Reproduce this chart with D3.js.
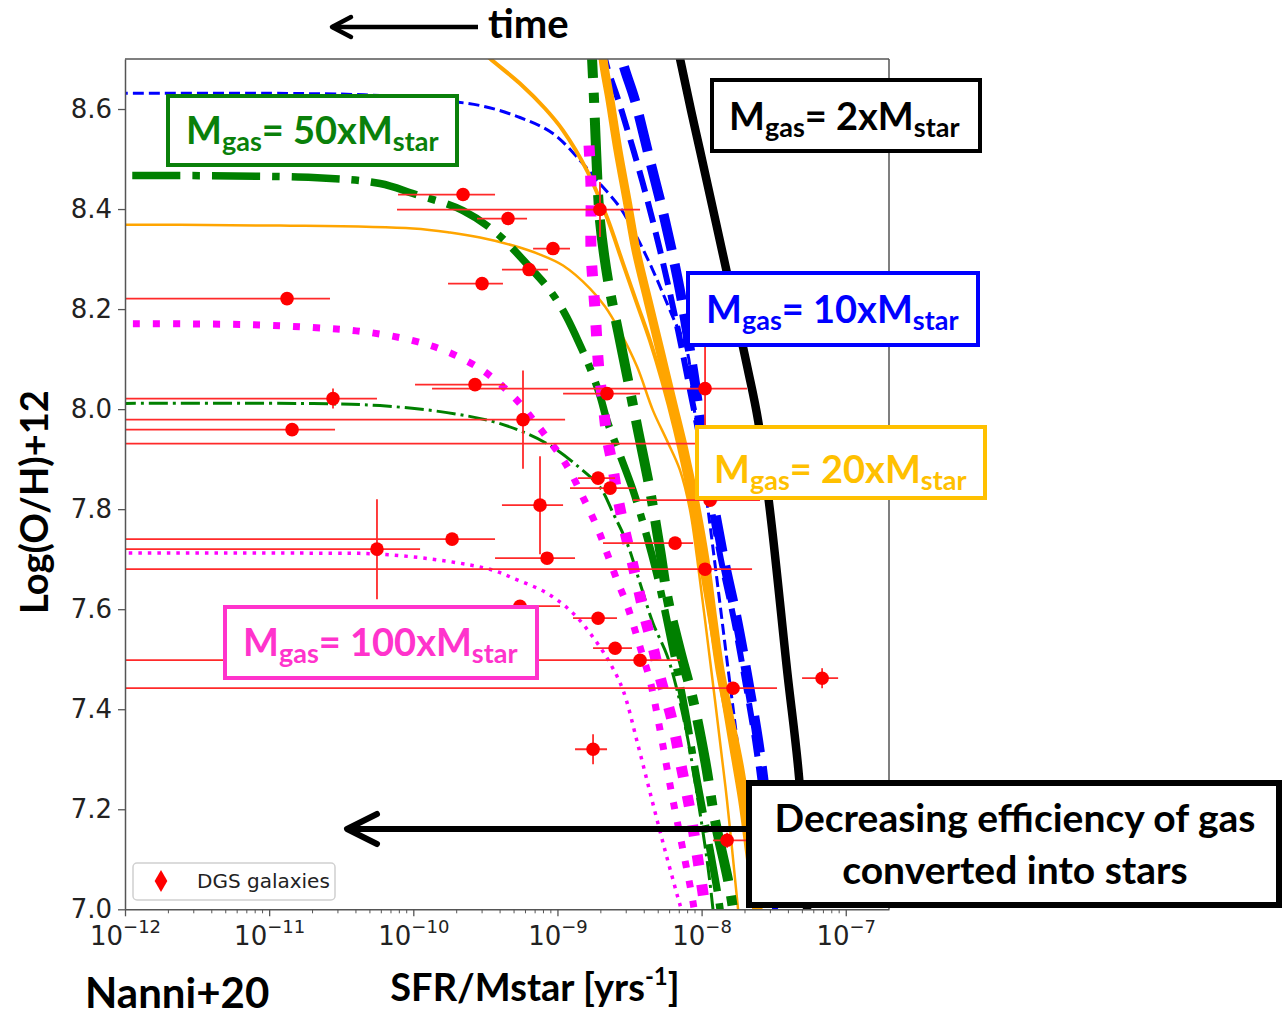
<!DOCTYPE html>
<html>
<head>
<meta charset="utf-8">
<script src="https://cdn.jsdelivr.net/npm/d3@7"></script>
<style>
  body { margin: 0; background: #fff; }
  svg { display: block; }
</style>
</head>
<body>
<svg id="chart" width="1282" height="1020"></svg>
<script>
// ---------------------------------------------------------------
// Data: log10(sSFR / yr^-1) and 12+log(O/H)
// ---------------------------------------------------------------
const xTickExps = [-12, -11, -10, -9, -8, -7];
const yTicks = [7.0, 7.2, 7.4, 7.6, 7.8, 8.0, 8.2, 8.4, 8.6];
const gasRatios = [2, 10, 20, 50, 100];

// model tracks, [log sSFR, 12+log(O/H)]
const track2xThick = [[-8.205,8.776],[-8.150,8.701],[-8.073,8.597],[-8.011,8.517],[-7.858,8.317],[-7.685,8.087],[-7.608,7.977],[-7.518,7.778],[-7.407,7.478],[-7.324,7.264],[-7.268,7.0],[-7.248,6.938]];

const track10xThick = [[-8.580,8.786],[-8.552,8.701],[-8.462,8.617],[-8.358,8.497],[-8.254,8.377],[-8.150,8.237],[-8.059,8.077],[-7.990,7.937],[-7.921,7.818],[-7.844,7.698],[-7.754,7.578],[-7.678,7.458],[-7.608,7.338],[-7.553,7.218],[-7.504,7.098],[-7.470,7.0],[-7.456,6.938]];
const track10xMid = [[-8.705,8.786],[-8.670,8.701],[-8.566,8.607],[-8.413,8.457],[-8.288,8.317],[-8.163,8.157],[-8.080,8.037],[-8.011,7.937],[-7.941,7.818],[-7.865,7.698],[-7.775,7.578],[-7.699,7.458],[-7.629,7.338],[-7.574,7.218],[-7.525,7.098],[-7.490,7.0],[-7.477,6.938]];
const track10xThin = [[-12.5,8.631],[-10.786,8.631],[-10.231,8.627],[-9.815,8.617],[-9.537,8.607],[-9.260,8.583],[-9.031,8.551],[-8.843,8.497],[-8.725,8.457],[-8.566,8.403],[-8.448,8.343],[-8.337,8.277],[-8.198,8.183],[-8.101,8.117],[-8.059,8.017],[-8.011,7.918],[-7.955,7.798],[-7.893,7.658],[-7.824,7.498],[-7.754,7.338],[-7.692,7.178],[-7.650,7.039],[-7.629,6.938]];

const track20xThick = [[-8.705,8.786],[-8.684,8.701],[-8.635,8.617],[-8.580,8.517],[-8.517,8.417],[-8.455,8.317],[-8.372,8.217],[-8.288,8.117],[-8.205,8.017],[-8.122,7.918],[-8.045,7.812],[-7.976,7.698],[-7.921,7.578],[-7.872,7.478],[-7.817,7.398],[-7.733,7.278],[-7.664,7.138],[-7.608,7.0],[-7.588,6.938]];
const track20xMid = [[-9.606,8.737],[-9.468,8.701],[-9.260,8.651],[-9.086,8.601],[-8.961,8.557],[-8.795,8.477],[-8.656,8.383],[-8.545,8.291],[-8.448,8.211],[-8.358,8.137],[-8.274,8.057],[-8.184,7.957],[-8.094,7.838],[-8.011,7.698],[-7.941,7.578],[-7.872,7.458],[-7.803,7.338],[-7.733,7.218],[-7.678,7.098],[-7.636,7.0],[-7.622,6.938]];
const track20xThin = [[-12.5,8.369],[-10.925,8.367],[-10.002,8.361],[-9.745,8.353],[-9.537,8.343],[-9.308,8.327],[-9.121,8.309],[-8.961,8.287],[-8.774,8.241],[-8.670,8.205],[-8.566,8.155],[-8.448,8.085],[-8.337,7.997],[-8.240,7.937],[-8.150,7.878],[-8.080,7.798],[-8.032,7.704],[-7.976,7.578],[-7.907,7.418],[-7.824,7.218],[-7.747,7.0],[-7.726,6.938]];

const track50xThick = [[-8.774,8.786],[-8.760,8.701],[-8.746,8.617],[-8.732,8.517],[-8.705,8.377],[-8.649,8.257],[-8.580,8.157],[-8.510,8.057],[-8.441,7.957],[-8.358,7.838],[-8.288,7.718],[-8.233,7.618],[-8.150,7.518],[-8.059,7.418],[-7.976,7.298],[-7.907,7.178],[-7.817,7.059],[-7.782,7.0],[-7.761,6.938]];
const track50xMid = [[-12.5,8.467],[-10.696,8.463],[-10.231,8.451],[-10.002,8.431],[-9.655,8.397],[-9.419,8.351],[-9.190,8.283],[-9.051,8.237],[-8.947,8.190],[-8.864,8.141],[-8.774,8.082],[-8.705,8.027],[-8.656,7.977],[-8.566,7.908],[-8.476,7.838],[-8.392,7.758],[-8.309,7.668],[-8.198,7.518],[-8.115,7.398],[-8.032,7.258],[-7.941,7.118],[-7.872,7.0],[-7.851,6.938]];
const track50xThin = [[-12.5,8.011],[-10.696,8.011],[-10.231,8.007],[-9.766,7.993],[-9.398,7.971],[-9.072,7.931],[-8.843,7.882],[-8.705,7.844],[-8.614,7.792],[-8.517,7.732],[-8.427,7.652],[-8.337,7.572],[-8.240,7.508],[-8.170,7.438],[-8.094,7.338],[-8.025,7.218],[-7.962,7.098],[-7.921,7.0],[-7.900,6.938]];

const track100xThick = [[-8.781,8.527],[-8.767,8.443],[-8.767,8.317],[-8.739,8.197],[-8.712,8.077],[-8.684,8.011],[-8.656,7.943],[-8.621,7.892],[-8.587,7.832],[-8.545,7.772],[-8.496,7.712],[-8.441,7.644],[-8.392,7.582],[-8.337,7.524],[-8.288,7.464],[-8.205,7.378],[-8.136,7.278],[-8.080,7.198],[-8.025,7.098],[-7.976,7.0],[-7.962,6.938]];
const track100xMid = [[-12.5,8.171],[-11.154,8.169],[-10.696,8.163],[-10.349,8.155],[-10.002,8.137],[-9.766,8.115],[-9.537,8.081],[-9.378,8.045],[-9.260,8.011],[-9.169,7.979],[-9.072,7.943],[-8.982,7.908],[-8.913,7.876],[-8.823,7.824],[-8.725,7.764],[-8.656,7.712],[-8.587,7.658],[-8.517,7.608],[-8.462,7.558],[-8.406,7.504],[-8.358,7.458],[-8.288,7.358],[-8.212,7.238],[-8.129,7.118],[-8.052,7.0],[-8.032,6.938]];
const track100xThin = [[-12.5,7.712],[-10.696,7.712],[-10.231,7.710],[-9.766,7.696],[-9.447,7.678],[-9.308,7.662],[-9.072,7.632],[-8.892,7.592],[-8.753,7.544],[-8.635,7.492],[-8.545,7.438],[-8.441,7.328],[-8.344,7.218],[-8.254,7.118],[-8.170,7.029],[-8.143,7.0],[-8.122,6.938]];

// DGS galaxies: [log sSFR, 12+log(O/H), log sSFR low, log sSFR high, O/H error]
const galaxies = [
  [-9.655, 8.429, -10.106, -9.433, 0],
  [-9.343, 8.381, -9.558, -9.211, 0],
  [-8.705, 8.399, -10.113, -8.427, 0.055],
  [-9.031, 8.321, -9.169, -8.913, 0],
  [-9.197, 8.279, -9.385, -9.066, 0],
  [-9.523, 8.251, -9.759, -9.378, 0],
  [-10.876, 8.221, -13, -10.578, 0.012],
  [-9.572, 8.049, -9.988, -9.364, 0],
  [-10.557, 8.021, -13, -10.252, 0.02],
  [-10.841, 7.959, -13, -10.543, 0],
  [-9.239, 7.979, -13, -8.947, 0.098],
  [-8.656, 8.031, -8.961, -8.427, 0],
  [-7.976, 8.041, -9.870, -7.685, 0.085],
  [-7.872, 7.931, -13, -7.500, 0],
  [-9.121, 7.808, -9.385, -8.961, 0.098],
  [-9.072, 7.702, -9.433, -8.878, 0],
  [-8.718, 7.862, -8.857, -8.600, 0],
  [-8.635, 7.842, -8.913, -8.462, 0],
  [-7.941, 7.818, -8.476, -7.595, 0],
  [-8.184, 7.732, -8.684, -8.059, 0],
  [-7.976, 7.680, -13, -7.650, 0],
  [-9.731, 7.740, -13, -9.433, 0],
  [-10.252, 7.720, -13, -9.953, 0.10],
  [-9.260, 7.606, -9.550, -8.982, 0],
  [-8.718, 7.582, -8.892, -8.587, 0],
  [-8.600, 7.522, -8.753, -8.483, 0],
  [-8.427, 7.498, -13, -8.150, 0],
  [-7.782, 7.442, -13, -7.477, 0],
  [-7.164, 7.462, -7.303, -7.053, 0.02],
  [-8.753, 7.320, -8.878, -8.656, 0.03],
  [-7.823, 7.138, -7.921, -7.668, 0.015]
];

// ---------------------------------------------------------------
// Scales and frame
// ---------------------------------------------------------------
const svg = d3.select('#chart');
const plot = { left: 125, right: 889, top: 59, bottom: 909.3 };
const x = d3.scaleLog().domain([1e-12, Math.pow(10, -6.70)]).range([plot.left, plot.right]);
const y = d3.scaleLinear().domain([7.0, 8.7]).range([plot.bottom, plot.top]);
const X = e => x(Math.pow(10, e));

const boldFont = 'Lato, "Open Sans", sans-serif';
const tickFont = '"DejaVu Sans", sans-serif';

svg.append('defs').append('clipPath').attr('id', 'plotClip')
  .append('rect')
  .attr('x', plot.left).attr('y', plot.top)
  .attr('width', plot.right - plot.left).attr('height', plot.bottom - plot.top);

svg.append('rect').attr('x', plot.left).attr('y', plot.top)
  .attr('width', plot.right - plot.left).attr('height', plot.bottom - plot.top)
  .attr('fill', '#fff');

// ---------------------------------------------------------------
// Model tracks
// ---------------------------------------------------------------
const line = d3.line()
  .x(d => X(d[0]))
  .y(d => y(d[1]))
  .curve(d3.curveCatmullRom.alpha(0.5));

const tracks = [
  { d: track2xThick,   color: '#000000', w: 8.5, dash: null },
  { d: track10xThin,   color: '#0000ff', w: 3,   dash: '11,5' },
  { d: track10xMid,    color: '#0000ff', w: 6,   dash: '22,10' },
  { d: track10xThick,  color: '#0000ff', w: 10,  dash: '37,14' },
  { d: track20xThin,   color: '#ffa500', w: 2.5, dash: null },
  { d: track20xMid,    color: '#ffa500', w: 4,   dash: null },
  { d: track20xThick,  color: '#ffa500', w: 9,   dash: null },
  { d: track50xThin,   color: '#008000', w: 3,   dash: '19,5,3,5' },
  { d: track50xMid,    color: '#008000', w: 7.5, dash: '48,12,7.5,12' },
  { d: track50xThick,  color: '#008000', w: 10,  dash: '62,15,10,15' },
  { d: track100xThin,  color: '#ff00ff', w: 3.5, dash: '3.5,6' },
  { d: track100xMid,   color: '#ff00ff', w: 7,   dash: '7,13' },
  { d: track100xThick, color: '#ff00ff', w: 11,  dash: '11,19' }
];

const gTracks = svg.append('g').attr('clip-path', 'url(#plotClip)');
tracks.forEach(t => {
  gTracks.append('path')
    .attr('d', line(t.d))
    .attr('fill', 'none')
    .attr('stroke', t.color)
    .attr('stroke-width', t.w)
    .attr('stroke-linejoin', 'round')
    .attr('stroke-dasharray', t.dash);
});

// ---------------------------------------------------------------
// Galaxies with error bars
// ---------------------------------------------------------------
const gPts = svg.append('g').attr('clip-path', 'url(#plotClip)');
gPts.selectAll('line.xerr').data(galaxies).join('line')
  .attr('class', 'xerr')
  .attr('x1', d => X(d[2])).attr('x2', d => X(d[3]))
  .attr('y1', d => y(d[1])).attr('y2', d => y(d[1]))
  .attr('stroke', '#ff2a2a').attr('stroke-width', 1.8);
gPts.selectAll('line.yerr').data(galaxies.filter(d => d[4] > 0)).join('line')
  .attr('class', 'yerr')
  .attr('x1', d => X(d[0])).attr('x2', d => X(d[0]))
  .attr('y1', d => y(d[1] - d[4])).attr('y2', d => y(d[1] + d[4]))
  .attr('stroke', '#ff2a2a').attr('stroke-width', 1.8);
gPts.selectAll('circle').data(galaxies).join('circle')
  .attr('cx', d => X(d[0])).attr('cy', d => y(d[1]))
  .attr('r', 6.8).attr('fill', '#ff0000');

// ---------------------------------------------------------------
// Axes
// ---------------------------------------------------------------
const axisColor = '#555';
const xAxis = d3.axisBottom(x)
  .tickValues(xTickExps.map(e => Math.pow(10, e)))
  .tickSize(7).tickSizeOuter(0).tickFormat(() => '');
const gx = svg.append('g').attr('transform', `translate(0,${plot.bottom})`).call(xAxis);
gx.select('.domain').attr('stroke', axisColor).attr('stroke-width', 1.5);
gx.selectAll('.tick line').attr('stroke', axisColor).attr('stroke-width', 1.3);
gx.selectAll('.tick text')
  .attr('y', 36).attr('dy', null)
  .attr('font-family', tickFont).attr('font-size', 26).attr('fill', '#222')
  .each(function (d, i) {
    const t = d3.select(this);
    t.append('tspan').text('10');
    t.append('tspan').attr('font-size', 18).attr('dy', -12).text('\u2212' + Math.abs(xTickExps[i]));
  });

// minor ticks on the log axis
const minor = [];
xTickExps.forEach(e => { for (let k = 2; k <= 9; k++) { const v = k * Math.pow(10, e); if (v <= x.domain()[1]) minor.push(v); } });
svg.append('g').selectAll('line').data(minor).join('line')
  .attr('x1', d => x(d)).attr('x2', d => x(d))
  .attr('y1', plot.bottom).attr('y2', plot.bottom + 4)
  .attr('stroke', axisColor).attr('stroke-width', 1);

const yAxis = d3.axisLeft(y).tickValues(yTicks).tickSize(7).tickSizeOuter(0)
  .tickPadding(6).tickFormat(d3.format('.1f'));
const gy = svg.append('g').attr('transform', `translate(${plot.left},0)`).call(yAxis);
gy.select('.domain').attr('stroke', axisColor).attr('stroke-width', 1.5);
gy.selectAll('.tick line').attr('stroke', axisColor).attr('stroke-width', 1.3);
gy.selectAll('.tick text').attr('font-family', tickFont).attr('font-size', 26).attr('fill', '#222');

// top and right spines
svg.append('line').attr('x1', plot.left).attr('x2', plot.right).attr('y1', plot.top).attr('y2', plot.top)
  .attr('stroke', axisColor).attr('stroke-width', 1.5);
svg.append('line').attr('x1', plot.right).attr('x2', plot.right).attr('y1', plot.top).attr('y2', plot.bottom)
  .attr('stroke', axisColor).attr('stroke-width', 1.5);

// legend
const gl = svg.append('g');
gl.append('rect').attr('x', 133).attr('y', 863).attr('width', 202).attr('height', 37).attr('rx', 4)
  .attr('fill', '#fff').attr('stroke', '#d0d0d0').attr('stroke-width', 1.5);
gl.append('path').attr('d', d3.symbol().type(d3.symbolDiamond).size(140)())
  .attr('transform', 'translate(161,881)').attr('fill', '#ff0000');
gl.append('text').attr('x', 197).attr('y', 888).attr('font-family', tickFont).attr('font-size', 20)
  .attr('fill', '#222').text('DGS galaxies');

// axis titles
const xt = svg.append('text').attr('x', 535).attr('y', 1001).attr('text-anchor', 'middle')
  .attr('font-family', boldFont).attr('font-weight', 700).attr('font-size', 38).attr('fill', '#000');
xt.append('tspan').text('SFR/Mstar [yrs');
xt.append('tspan').attr('font-size', 24).attr('dy', -16).text('-1');
xt.append('tspan').attr('dy', 16).text(']');

svg.append('text').attr('transform', 'translate(48,502) rotate(-90)').attr('text-anchor', 'middle')
  .attr('font-family', boldFont).attr('font-weight', 700).attr('font-size', 38).attr('fill', '#000')
  .text('Log(O/H)+12');

svg.append('text').attr('x', 85).attr('y', 1008)
  .attr('font-family', boldFont).attr('font-weight', 700).attr('font-size', 42).attr('fill', '#000')
  .text('Nanni+20');

// ---------------------------------------------------------------
// Annotations
// ---------------------------------------------------------------
const ga = svg.append('g');
function arrowLeft(x0, x1, yy, w, hx, hy) {
  ga.append('line').attr('x1', x0).attr('x2', x1).attr('y1', yy).attr('y2', yy)
    .attr('stroke', '#000').attr('stroke-width', w);
  ga.append('path').attr('d', `M${x0 + hx},${yy - hy} L${x0},${yy} L${x0 + hx},${yy + hy}`)
    .attr('fill', 'none').attr('stroke', '#000').attr('stroke-width', w)
    .attr('stroke-linecap', 'round').attr('stroke-linejoin', 'round');
}
arrowLeft(332, 478, 27, 4.5, 19, 10);
svg.append('text').attr('x', 488).attr('y', 38)
  .attr('font-family', boldFont).attr('font-weight', 700).attr('font-size', 40).attr('fill', '#000')
  .text('time');

arrowLeft(347, 750, 829, 6, 30, 15);

function massLabel(box, tx, ty, ratio, color) {
  ga.append('rect').attr('x', box[0]).attr('y', box[1]).attr('width', box[2] - box[0]).attr('height', box[3] - box[1])
    .attr('fill', '#fff').attr('stroke', color).attr('stroke-width', 4);
  const t = ga.append('text').attr('x', tx).attr('y', ty).attr('fill', color)
    .attr('font-family', boldFont).attr('font-weight', 700).attr('font-size', 38);
  t.append('tspan').text('M');
  t.append('tspan').attr('font-size', 27).attr('dy', 7).text('gas');
  t.append('tspan').attr('dy', -7).text('= ' + ratio + 'xM');
  t.append('tspan').attr('font-size', 27).attr('dy', 7).text('star');
}
massLabel([712, 80, 980, 151], 729, 130, gasRatios[0], '#000000');
massLabel([688, 273, 978, 345], 706, 323, gasRatios[1], '#0000ff');
massLabel([697, 427, 985, 498], 714, 483, gasRatios[2], '#ffc000');
massLabel([168, 96, 457, 165], 186, 144, gasRatios[3], '#0a800a');
massLabel([225, 607, 537, 678], 243, 656, gasRatios[4], '#ff33cc');

ga.append('rect').attr('x', 749).attr('y', 783).attr('width', 530).attr('height', 122)
  .attr('fill', '#fff').attr('stroke', '#000').attr('stroke-width', 6);
const dt = ga.append('text').attr('text-anchor', 'middle')
  .attr('font-family', boldFont).attr('font-weight', 700).attr('font-size', 39).attr('fill', '#000');
dt.append('tspan').attr('x', 1015).attr('y', 832).text('Decreasing efficiency of gas');
dt.append('tspan').attr('x', 1015).attr('y', 884).text('converted into stars');
</script>
</body>
</html>
